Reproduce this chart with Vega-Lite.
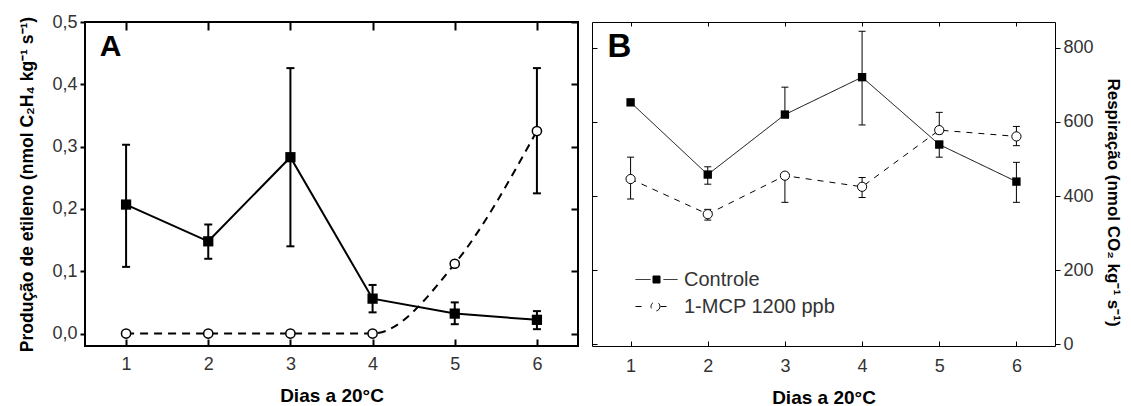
{
  "$schema": "https://vega.github.io/schema/vega-lite/v6.json",
  "background": "white",
  "padding": {"left": 17, "top": 12, "right": 0, "bottom": 0},
  "autosize": {"type": "pad"},
  "bounds": "flush",
  "spacing": 14,
  "resolve": {"scale": {"strokeDash": "independent"}, "legend": {"strokeDash": "independent"}},
  "config": {
    "font": "Liberation Sans",
    "axis": {"domain": false, "grid": false, "labelFont": "Liberation Sans", "labelFontSize": 18, "labelColor": "#333333", "tickColor": "black", "titleFont": "Liberation Sans", "titleFontWeight": "bold", "titleColor": "black"},
    "view": {"stroke": "black"}
  },
  "datasets": {
    "etileno": [
      {"dia": 1, "trat": "Controle", "media": 0.207, "inf": 0.107, "sup": 0.303},
      {"dia": 2, "trat": "Controle", "media": 0.148, "inf": 0.12, "sup": 0.175},
      {"dia": 3, "trat": "Controle", "media": 0.283, "inf": 0.14, "sup": 0.426},
      {"dia": 4, "trat": "Controle", "media": 0.056, "inf": 0.034, "sup": 0.078},
      {"dia": 5, "trat": "Controle", "media": 0.032, "inf": 0.015, "sup": 0.05},
      {"dia": 6, "trat": "Controle", "media": 0.022, "inf": 0.007, "sup": 0.036},
      {"dia": 1, "trat": "1-MCP 1200 ppb", "media": 0.0, "inf": null, "sup": null},
      {"dia": 2, "trat": "1-MCP 1200 ppb", "media": 0.0, "inf": null, "sup": null},
      {"dia": 3, "trat": "1-MCP 1200 ppb", "media": 0.0, "inf": null, "sup": null},
      {"dia": 4, "trat": "1-MCP 1200 ppb", "media": 0.0, "inf": null, "sup": null},
      {"dia": 5, "trat": "1-MCP 1200 ppb", "media": 0.112, "inf": null, "sup": null},
      {"dia": 6, "trat": "1-MCP 1200 ppb", "media": 0.325, "inf": 0.225, "sup": 0.426}
    ],
    "respiracao": [
      {"dia": 1, "trat": "Controle", "media": 653, "inf": null, "sup": null},
      {"dia": 2, "trat": "Controle", "media": 458, "inf": 432, "sup": 479},
      {"dia": 3, "trat": "Controle", "media": 620, "inf": 612, "sup": 694},
      {"dia": 4, "trat": "Controle", "media": 721, "inf": 592, "sup": 845},
      {"dia": 5, "trat": "Controle", "media": 539, "inf": 505, "sup": 548},
      {"dia": 6, "trat": "Controle", "media": 439, "inf": 383, "sup": 491},
      {"dia": 1, "trat": "1-MCP 1200 ppb", "media": 446, "inf": 392, "sup": 505},
      {"dia": 2, "trat": "1-MCP 1200 ppb", "media": 351, "inf": 335, "sup": 364},
      {"dia": 3, "trat": "1-MCP 1200 ppb", "media": 455, "inf": 383, "sup": 462},
      {"dia": 4, "trat": "1-MCP 1200 ppb", "media": 425, "inf": 396, "sup": 450},
      {"dia": 5, "trat": "1-MCP 1200 ppb", "media": 578, "inf": 568, "sup": 626},
      {"dia": 6, "trat": "1-MCP 1200 ppb", "media": 561, "inf": 536, "sup": 588}
    ],
    "paineis": [
      {"painel": "A", "dia": 0.68, "valor": 0.445},
      {"painel": "B", "dia": 0.7, "valor": 776}
    ]
  },
  "hconcat": [
    {
      "width": 493,
      "height": 324,
      "view": {"stroke": "black", "strokeWidth": 2},
      "data": {"name": "etileno"},
      "resolve": {"axis": {"x": "independent", "y": "independent"}},
      "layer": [
        {
          "transform": [{"filter": "datum.trat === 'Controle'"}],
          "mark": {"type": "line", "color": "black", "strokeWidth": 2},
          "encoding": {
            "x": {"field": "dia", "type": "quantitative", "scale": {"domain": [0.5, 6.5], "nice": false, "zero": false},
              "axis": {"orient": "bottom", "values": [1, 2, 3, 4, 5, 6], "tickSize": -7, "tickWidth": 2, "labelPadding": 16, "title": "Dias a 20°C", "titleFontSize": 19, "titlePadding": 13}},
            "y": {"field": "media", "type": "quantitative", "scale": {"domain": [-0.02, 0.5], "nice": false, "zero": false},
              "axis": {"orient": "left", "values": [0, 0.1, 0.2, 0.3, 0.4, 0.5], "tickSize": 5, "tickWidth": 2, "labelPadding": 3, "labelExpr": "replace(format(datum.value, '.1f'), '.', ',')", "title": "Produção de etileno (nmol C₂H₄ kg⁻¹ s⁻¹)", "titleFontSize": 17.5, "titlePadding": 15}}
          }
        },
        {
          "transform": [{"filter": "datum.trat !== 'Controle'"}],
          "mark": {"type": "line", "color": "black", "strokeWidth": 2, "strokeDash": [8, 6], "interpolate": "monotone"},
          "encoding": {
            "x": {"field": "dia", "type": "quantitative", "axis": {"orient": "top", "values": [1, 2, 3, 4, 5, 6], "labels": false, "tickSize": -8, "tickWidth": 2, "title": null}},
            "y": {"field": "media", "type": "quantitative", "axis": {"orient": "right", "values": [0, 0.1, 0.2, 0.3, 0.4, 0.5], "labels": false, "tickSize": -7, "tickWidth": 2, "title": null}}
          }
        },
        {
          "transform": [{"filter": "isValid(datum.inf)"}],
          "mark": {"type": "rule", "color": "black", "strokeWidth": 2},
          "encoding": {
            "x": {"field": "dia", "type": "quantitative", "axis": null},
            "y": {"field": "inf", "type": "quantitative", "axis": null},
            "y2": {"field": "sup"}
          }
        },
        {
          "transform": [{"filter": "isValid(datum.inf)"}],
          "mark": {"type": "tick", "orient": "horizontal", "color": "black", "thickness": 2, "size": 8, "opacity": 1},
          "encoding": {
            "x": {"field": "dia", "type": "quantitative", "axis": null},
            "y": {"field": "inf", "type": "quantitative", "axis": null}
          }
        },
        {
          "transform": [{"filter": "isValid(datum.sup)"}],
          "mark": {"type": "tick", "orient": "horizontal", "color": "black", "thickness": 2, "size": 8, "opacity": 1},
          "encoding": {
            "x": {"field": "dia", "type": "quantitative", "axis": null},
            "y": {"field": "sup", "type": "quantitative", "axis": null}
          }
        },
        {
          "transform": [{"filter": "datum.trat === 'Controle'"}],
          "mark": {"type": "square", "color": "black", "filled": true, "size": 105, "opacity": 1},
          "encoding": {
            "x": {"field": "dia", "type": "quantitative", "axis": null},
            "y": {"field": "media", "type": "quantitative", "axis": null}
          }
        },
        {
          "transform": [{"filter": "datum.trat !== 'Controle'"}],
          "mark": {"type": "point", "shape": "circle", "filled": true, "fill": "white", "stroke": "black", "strokeWidth": 1.5, "size": 85, "opacity": 1},
          "encoding": {
            "x": {"field": "dia", "type": "quantitative", "axis": null},
            "y": {"field": "media", "type": "quantitative", "axis": null}
          }
        },
        {
          "data": {"name": "paineis"},
          "transform": [{"filter": "datum.painel === 'A'"}],
          "mark": {"type": "text", "align": "left", "baseline": "alphabetic", "fontSize": 30, "fontWeight": "bold", "font": "Liberation Sans", "color": "black"},
          "encoding": {
            "x": {"field": "dia", "type": "quantitative", "axis": null},
            "y": {"field": "valor", "type": "quantitative", "axis": null},
            "text": {"field": "painel"}
          }
        }
      ]
    },
    {
      "width": 463,
      "height": 324,
      "view": {"stroke": "black", "strokeWidth": 1},
      "data": {"name": "respiracao"},
      "resolve": {"axis": {"x": "independent", "y": "independent"}},
      "layer": [
        {
          "mark": {"type": "line", "color": "black", "strokeWidth": 1},
          "encoding": {
            "x": {"field": "dia", "type": "quantitative", "scale": {"domain": [0.5, 6.5], "nice": false, "zero": false},
              "axis": {"orient": "bottom", "values": [1, 2, 3, 4, 5, 6], "tickSize": -5, "tickWidth": 1, "labelPadding": 16, "title": "Dias a 20°C", "titleFontSize": 19, "titlePadding": 13}},
            "y": {"field": "media", "type": "quantitative", "scale": {"domain": [-5, 870], "nice": false, "zero": false},
              "axis": {"orient": "right", "values": [0, 200, 400, 600, 800], "tickSize": 5, "tickWidth": 1, "labelPadding": 3, "title": "Respiração (nmol CO₂ kg⁻¹ s⁻¹)", "titleAngle": 90, "titleFontSize": 17, "titlePadding": 10, "titleY": 180}},
            "strokeDash": {"field": "trat", "type": "nominal",
              "scale": {"domain": ["Controle", "1-MCP 1200 ppb"], "range": [[1, 0], [6, 6]]},
              "legend": {
                "title": null, "orient": "none", "legendX": 54, "legendY": 247, "padding": 0,
                "symbolSize": 400, "symbolStrokeWidth": 1, "symbolStrokeColor": "black",
                "labelFontSize": 20, "labelColor": "#333333", "labelFont": "Liberation Sans", "labelOffset": 17, "rowPadding": 6,
                "encode": {"symbols": {"update": {
                  "shape": {"signal": "datum.value === 'Controle' ? 'M-2.1,0H-0.6M0.7,0H2.1M-0.35,-0.35H0.35V0.35H-0.35Z' : 'M-2.1,0H-1.5M0.4,0H1.1M0.35,0A0.45,0.45 0 1,1 -0.55,0A0.45,0.45 0 1,1 0.35,0Z'"},
                  "fill": {"signal": "datum.value === 'Controle' ? 'black' : 'white'"},
                  "stroke": {"value": "black"},
                  "strokeDash": {"value": [1, 0]},
                  "strokeWidth": {"value": 1},
                  "opacity": {"value": 1}
                }}}
              }}
          }
        },
        {
          "transform": [{"filter": "isValid(datum.inf)"}],
          "mark": {"type": "rule", "color": "black", "strokeWidth": 1},
          "encoding": {
            "x": {"field": "dia", "type": "quantitative", "axis": {"orient": "top", "values": [1, 2, 3, 4, 5, 6], "labels": false, "tickSize": -4, "tickWidth": 1, "title": null}},
            "y": {"field": "inf", "type": "quantitative", "axis": {"orient": "left", "values": [0, 200, 400, 600, 800], "labels": false, "tickSize": -5, "tickWidth": 1, "title": null}},
            "y2": {"field": "sup"}
          }
        },
        {
          "transform": [{"filter": "isValid(datum.inf)"}],
          "mark": {"type": "tick", "orient": "horizontal", "color": "black", "thickness": 1, "size": 7, "opacity": 1},
          "encoding": {
            "x": {"field": "dia", "type": "quantitative", "axis": null},
            "y": {"field": "inf", "type": "quantitative", "axis": null}
          }
        },
        {
          "transform": [{"filter": "isValid(datum.sup)"}],
          "mark": {"type": "tick", "orient": "horizontal", "color": "black", "thickness": 1, "size": 7, "opacity": 1},
          "encoding": {
            "x": {"field": "dia", "type": "quantitative", "axis": null},
            "y": {"field": "sup", "type": "quantitative", "axis": null}
          }
        },
        {
          "transform": [{"filter": "datum.trat === 'Controle'"}],
          "mark": {"type": "square", "color": "black", "filled": true, "size": 70, "opacity": 1},
          "encoding": {
            "x": {"field": "dia", "type": "quantitative", "axis": null},
            "y": {"field": "media", "type": "quantitative", "axis": null}
          }
        },
        {
          "transform": [{"filter": "datum.trat !== 'Controle'"}],
          "mark": {"type": "point", "shape": "circle", "filled": true, "fill": "white", "stroke": "black", "strokeWidth": 1, "size": 85, "opacity": 1},
          "encoding": {
            "x": {"field": "dia", "type": "quantitative", "axis": null},
            "y": {"field": "media", "type": "quantitative", "axis": null}
          }
        },
        {
          "data": {"name": "paineis"},
          "transform": [{"filter": "datum.painel === 'B'"}],
          "mark": {"type": "text", "align": "left", "baseline": "alphabetic", "fontSize": 33, "fontWeight": "bold", "font": "Liberation Sans", "color": "black"},
          "encoding": {
            "x": {"field": "dia", "type": "quantitative", "axis": null},
            "y": {"field": "valor", "type": "quantitative", "axis": null},
            "text": {"field": "painel"}
          }
        }
      ]
    }
  ]
}
